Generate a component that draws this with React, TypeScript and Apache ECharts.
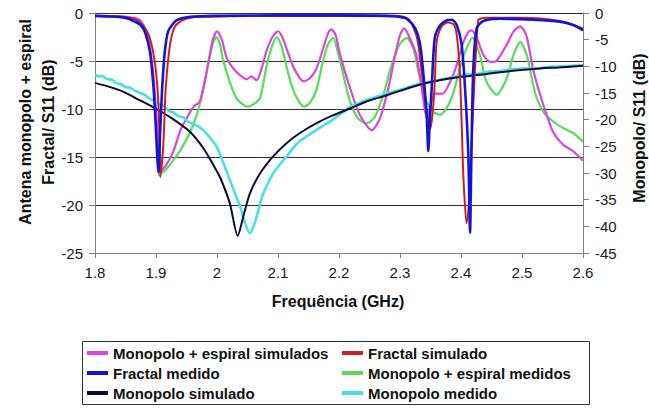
import React, { useEffect, useRef } from "react";
import * as echarts from "echarts";

// Frequency axis ticks (GHz)
const xTicks = [1.8, 1.9, 2.0, 2.1, 2.2, 2.3, 2.4, 2.5, 2.6];

// Left axis: Antena monopolo + espiral / Fractal S11 (dB)
const monoEspiralSimulados = [
  [1.8, -0.3], [1.87, -0.6], [1.885, -2], [1.895, -6], [1.902, -12], [1.906, -16.5],
  [1.915, -16], [1.928, -14.5], [1.94, -12.2], [1.95, -11], [1.961, -9.8], [1.972, -9.2],
  [1.985, -5.5], [1.993, -2.8], [2.0, -1.9], [2.008, -2.8], [2.016, -4.7], [2.027, -5.8],
  [2.038, -6.5], [2.049, -6.9], [2.056, -6.6], [2.065, -7.0], [2.073, -5.8], [2.081, -4.0],
  [2.09, -2.6], [2.1, -1.9], [2.107, -2.5], [2.114, -3.7], [2.125, -5.6], [2.136, -6.8],
  [2.142, -7.1], [2.152, -6.8], [2.163, -5.8], [2.174, -3.7], [2.181, -2.3], [2.187, -1.7],
  [2.194, -2.2], [2.202, -4.4], [2.218, -7.8], [2.234, -10.6], [2.254, -12.2], [2.267, -11],
  [2.281, -7.8], [2.292, -4.4], [2.3, -2.3], [2.307, -1.6], [2.316, -2.6], [2.327, -4.4],
  [2.336, -8], [2.344, -11], [2.35, -9.6], [2.358, -8.4], [2.37, -8.4], [2.382, -7.2],
  [2.393, -5.4], [2.404, -3.0], [2.412, -2.0], [2.4175, -1.8], [2.426, -2.6], [2.437, -4.4],
  [2.448, -5.1], [2.458, -5.0], [2.475, -3.3], [2.486, -1.95], [2.497, -1.4], [2.507, -2.3],
  [2.519, -6.1], [2.535, -9.6], [2.551, -12.4], [2.568, -13.75], [2.584, -14.4], [2.6, -15.4],
];

const fractalSimulado = [
  [1.8, -0.3], [1.85, -0.4], [1.87, -0.8], [1.882, -1.6], [1.89, -2.6], [1.898, -5.1],
  [1.9035, -8.9], [1.906, -13.7], [1.907, -17.1], [1.912, -13.7], [1.916, -7.8], [1.923, -3.3],
  [1.931, -1.4], [1.945, -0.7], [1.97, -0.4], [2.1, -0.3], [2.3, -0.35], [2.315, -0.7],
  [2.328, -2.6], [2.3355, -6.1], [2.343, -10], [2.35, -12], [2.354, -10], [2.357, -7.3],
  [2.36, -3.1], [2.368, -1.4], [2.379, -1.0], [2.388, -1.2], [2.393, -2.3], [2.398, -6.1],
  [2.401, -11.3], [2.404, -17.2], [2.409, -21.9], [2.428, -0.8], [2.44, -0.5], [2.5, -0.5],
  [2.56, -0.8], [2.6, -1.6],
];

const fractalMedido = [
  [1.8, -0.3], [1.82, -0.35], [1.84, -0.4], [1.855, -0.6], [1.865, -0.9], [1.874, -1.2],
  [1.882, -2.0], [1.89, -4.0], [1.896, -7.8], [1.899, -11], [1.904, -16.6], [1.907, -12],
  [1.91, -8], [1.914, -4.3], [1.92, -1.9], [1.934, -0.75], [1.956, -0.4], [2.0, -0.3],
  [2.1, -0.25], [2.2, -0.25], [2.28, -0.3], [2.3, -0.4], [2.311, -0.6], [2.325, -1.6],
  [2.333, -3.3], [2.338, -6.1], [2.3437, -10.6], [2.3464, -14.4], [2.349, -11], [2.352, -7.8],
  [2.357, -2.6], [2.366, -1.25], [2.377, -0.75], [2.385, -0.7], [2.393, -1.25], [2.401, -3.3],
  [2.4066, -7.8], [2.412, -14.8], [2.4148, -22.9], [2.417, -15], [2.42, -6.1], [2.4257, -1.6],
  [2.4366, -0.83], [2.464, -0.6], [2.519, -0.7], [2.562, -0.9], [2.584, -1.25], [2.6, -1.8],
];

const monoEspiralMedidos = [
  [1.903, -16.9], [1.915, -16.4], [1.923, -15.8], [1.939, -14.4], [1.956, -12.4], [1.967, -10.6],
  [1.978, -7.8], [1.986, -5.1], [1.994, -3.0], [1.999, -2.5], [2.005, -3.3], [2.01, -4.9],
  [2.021, -7.2], [2.032, -8.9], [2.044, -9.6], [2.051, -9.75], [2.06, -9.5], [2.0705, -8.9],
  [2.0814, -5.5], [2.09, -3.5], [2.098, -2.5], [2.106, -3.5], [2.1115, -4.9], [2.122, -7.5],
  [2.133, -9.1], [2.143, -9.75], [2.153, -9.3], [2.163, -8.0], [2.172, -5.5], [2.181, -3.4],
  [2.19, -2.6], [2.2016, -5.0], [2.218, -9.2], [2.2317, -11], [2.2454, -11.5], [2.259, -10.8],
  [2.2727, -8.5], [2.2864, -5.4], [2.3, -3.2], [2.311, -2.6], [2.322, -3.7], [2.33, -6.1],
  [2.3437, -9.2], [2.3546, -10.3], [2.3656, -10.6], [2.3765, -9.9], [2.386, -8.6], [2.395, -6.6],
  [2.404, -4.5], [2.419, -2.6], [2.431, -4.4], [2.442, -7.2], [2.4585, -8.5], [2.475, -6.8],
  [2.486, -4.4], [2.497, -3.0], [2.508, -4.4], [2.521, -8.2], [2.535, -10.3], [2.551, -11.3],
  [2.568, -12.0], [2.584, -12.5], [2.6, -13.4],
];

// Right axis: Monopolo / S11 (dB)
const monopoloSimulado = [
  [1.8, -13.1], [1.825, -13.9], [1.846, -14.75], [1.874, -16.4], [1.901, -18.0], [1.928, -19.9],
  [1.956, -22.3], [1.978, -25.4], [1.994, -28.5], [2.005, -30.8], [2.021, -35.7], [2.034, -41.8],
  [2.043, -38.2], [2.054, -33.8], [2.0705, -30.1], [2.092, -26.9], [2.114, -24.4], [2.136, -22.5],
  [2.164, -20.6], [2.19, -19.2], [2.218, -17.9], [2.245, -16.6], [2.273, -15.6], [2.3, -14.6],
  [2.333, -13.4], [2.365, -12.6], [2.398, -12.0], [2.43, -11.6], [2.464, -11.1], [2.519, -10.5],
  [2.56, -10.2], [2.6, -9.9],
];

const monopoloMedido = [
  [1.8, -11.6], [1.806, -11.9], [1.812, -11.8], [1.82, -12.4], [1.828, -12.5], [1.835, -13.2],
  [1.842, -13.3], [1.85, -13.9], [1.858, -14.0], [1.866, -14.6], [1.874, -15.0], [1.882, -15.4],
  [1.89, -16.1], [1.897, -16.4], [1.904, -17.1], [1.912, -17.4], [1.92, -18.3], [1.928, -18.6],
  [1.936, -19.3], [1.945, -19.6], [1.953, -20.4], [1.961, -20.8], [1.97, -21.3], [1.978, -22.0],
  [1.985, -22.9], [1.993, -24.0], [2.0, -25.2], [2.008, -27.4], [2.015, -29.5], [2.021, -31.3],
  [2.03, -34.0], [2.038, -36.3], [2.046, -39.4], [2.054, -41.3], [2.06, -40.0], [2.065, -38.2],
  [2.07, -36.0], [2.076, -33.8], [2.084, -31.8], [2.092, -30.1], [2.103, -28.4], [2.114, -26.9],
  [2.125, -25.3], [2.136, -24.0], [2.15, -22.9], [2.163, -21.9], [2.176, -21.0], [2.19, -20.0],
  [2.204, -18.8], [2.218, -17.6], [2.232, -16.9], [2.245, -16.3], [2.259, -15.8], [2.273, -15.3],
  [2.287, -14.8], [2.3, -14.4], [2.316, -13.8], [2.333, -13.2], [2.35, -12.9], [2.365, -12.5],
  [2.38, -12.2], [2.398, -11.7], [2.415, -11.5], [2.43, -11.3], [2.447, -11.0], [2.464, -10.9],
  [2.48, -10.6], [2.5, -10.4], [2.52, -10.4], [2.545, -10.1], [2.57, -10.0], [2.6, -9.75],
];

const names = {
  me: "Monopolo + espiral simulados",
  fs: "Fractal simulado",
  fm: "Fractal medido",
  mm: "Monopolo + espiral medidos",
  ms: "Monopolo simulado",
  mo: "Monopolo medido",
};

const colors = {
  me: "#DD44DD",
  fs: "#CC2020",
  fm: "#1414D8",
  mm: "#55DD55",
  ms: "#0A0A3A",
  mo: "#44E2E2",
};

const FONT = '"Liberation Sans", Arial, sans-serif';

export default function App() {
  const ref = useRef<HTMLDivElement>(null);
  useEffect(() => {
    if (!ref.current) return;
    const chart = echarts.init(ref.current, null, { renderer: "svg" });
    const line = (key: string, data: number[][], yAxisIndex: number, width: number) => ({
      name: (names as any)[key],
      type: "line",
      data,
      yAxisIndex,
      symbol: "none",
      smooth: 0.25,
      lineStyle: { color: (colors as any)[key], width },
      itemStyle: { color: (colors as any)[key] },
    });
    const legendItem = (key: string, left: number, top: number) => ({
      data: [(names as any)[key]],
      left,
      top,
      padding: 0,
      icon: "rect",
      itemWidth: 21,
      itemHeight: 4,
      selectedMode: false,
      textStyle: { fontFamily: FONT, fontWeight: "bold", fontSize: 15, color: "#111", lineHeight: 16 },
    });
    const tickLabel = { fontFamily: FONT, fontSize: 15, color: "#1a1a1a" };
    chart.setOption({
      animation: false,
      grid: { left: 95, right: 66, top: 13, bottom: 155, containLabel: false },
      xAxis: {
        type: "value",
        min: xTicks[0],
        max: xTicks[xTicks.length - 1],
        interval: 0.1,
        axisLine: { onZero: false, lineStyle: { color: "#808080", width: 1 } },
        axisTick: { show: true, length: 5, lineStyle: { color: "#808080" } },
        axisLabel: { ...tickLabel, margin: 12, formatter: (v: number) => String(Math.round(v * 10) / 10) },
        splitLine: { show: false },
      },
      yAxis: [
        {
          type: "value",
          min: -25,
          max: 0,
          interval: 5,
          position: "left",
          axisLine: { show: true, lineStyle: { color: "#808080", width: 1 } },
          axisTick: { show: true, length: 6, lineStyle: { color: "#808080" } },
          axisLabel: { ...tickLabel, margin: 12 },
          splitLine: { show: true, lineStyle: { color: "#333", width: 1 } },
        },
        {
          type: "value",
          min: -45,
          max: 0,
          interval: 5,
          position: "right",
          axisLine: { show: true, lineStyle: { color: "#808080", width: 1 } },
          axisTick: { show: true, length: 6, lineStyle: { color: "#808080" } },
          axisLabel: { ...tickLabel, margin: 12 },
          splitLine: { show: false },
        },
      ],
      legend: [
        legendItem("me", 87, 345),
        legendItem("fs", 342, 345),
        legendItem("fm", 87, 365),
        legendItem("mm", 342, 365),
        legendItem("ms", 87, 385),
        legendItem("mo", 342, 385),
      ],
      graphic: [
        {
          type: "rect",
          shape: { x: 82.5, y: 341.5, width: 507, height: 63 },
          style: { fill: "none", stroke: "#333", lineWidth: 1 },
          silent: true,
        },
        {
          type: "text",
          x: 37,
          y: 122,
          rotation: Math.PI / 2,
          style: {
            text: "Antena monopolo + espiral\nFractal/ S11 (dB)",
            font: `bold 16px ${FONT}`,
            fill: "#111",
            align: "center",
            verticalAlign: "middle",
            lineHeight: 23,
          },
          silent: true,
        },
        {
          type: "text",
          x: 639,
          y: 128,
          rotation: Math.PI / 2,
          style: {
            text: "Monopolo/ S11 (dB)",
            font: `bold 16px ${FONT}`,
            fill: "#111",
            align: "center",
            verticalAlign: "middle",
          },
          silent: true,
        },
        {
          type: "text",
          x: 338,
          y: 301,
          style: {
            text: "Frequência (GHz)",
            font: `bold 16px ${FONT}`,
            fill: "#111",
            align: "center",
            verticalAlign: "middle",
          },
          silent: true,
        },
      ],
      series: [
        line("mm", monoEspiralMedidos, 0, 2.2),
        line("me", monoEspiralSimulados, 0, 2.2),
        line("mo", monopoloMedido, 1, 2.6),
        line("ms", monopoloSimulado, 1, 2),
        line("fs", fractalSimulado, 0, 2),
        line("fm", fractalMedido, 0, 2.6),
      ],
    });
    return () => chart.dispose();
  }, []);
  return (
    <div
      ref={ref}
      style={{ position: "fixed", left: 0, top: 0, width: 649, height: 408, background: "#fff" }}
    />
  );
}
